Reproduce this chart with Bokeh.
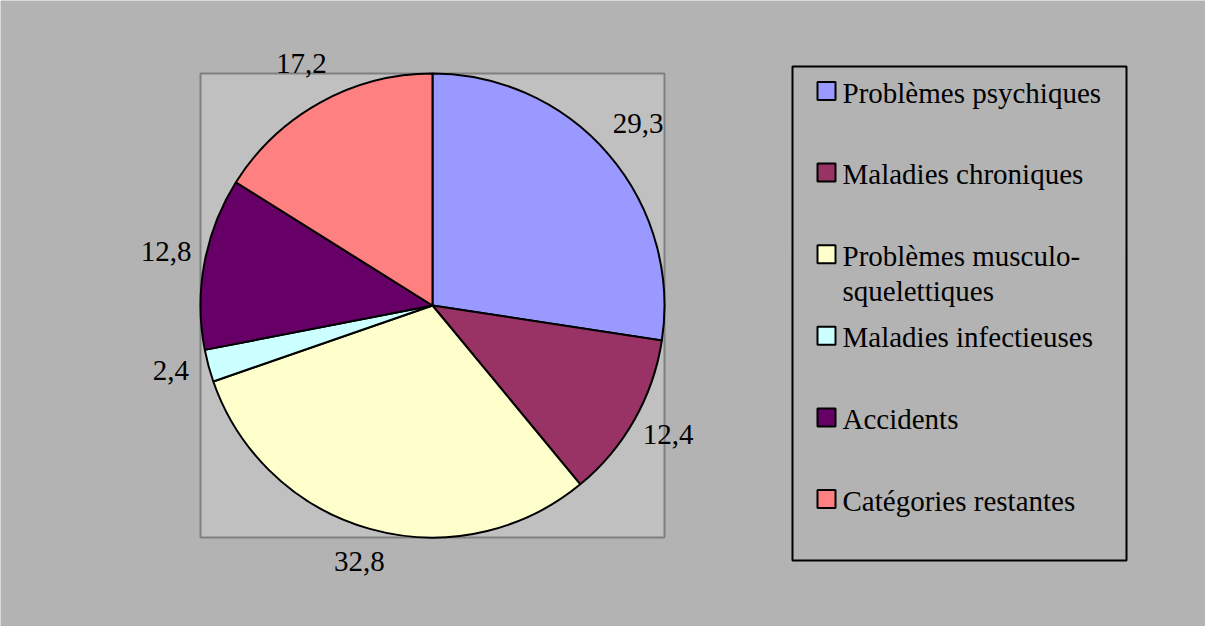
import math
from bokeh.plotting import figure
from bokeh.models import Range1d, ColumnDataSource
from bokeh.core.properties import value
from bokeh.embed import file_html
from bokeh.resources import INLINE

# ---- data ----
categories = ["Problèmes psychiques", "Maladies chroniques",
              "Problèmes musculo-\nsquelettiques", "Maladies infectieuses",
              "Accidents", "Catégories restantes"]
values = [29.3, 12.4, 32.8, 2.4, 12.8, 17.2]
value_labels = ["29,3", "12,4", "32,8", "2,4", "12,8", "17,2"]
colors = ["#9999FF", "#993366", "#FFFFCC", "#CCFFFF", "#660066", "#FF8080"]

# ---- layout (reference pixel coords; data y = 642 - screen y) ----
W, H = 1205, 626
BG = "#b3b3b3"
PLOT_BG = "#c0c0c0"
FONT = "Liberation Serif"
FS = "29px"

def Y(sy):
    return 642 - sy

cx, cy, r = 440, Y(313), 232
label_r = 271
label_dy = 5      # compensation for text 'middle' rendering
legend_dy = 8     # compensation for text baseline rendering

p = figure(width=W, height=H, output_backend="svg", toolbar_location=None,
           x_range=Range1d(8, 8 + W), y_range=Range1d(8, 8 + H),
           min_border=0)
p.axis.visible = False
p.grid.visible = False
p.outline_line_color = None
p.background_fill_color = BG
p.border_fill_color = BG

# plot area box
p.quad(left=[208], right=[672], top=[Y(81)], bottom=[Y(545)],
       fill_color=PLOT_BG, line_color="#808080", line_width=2)

# pie wedges (clockwise from 12 o'clock)
total = sum(values)
starts, ends, lx, ly = [], [], [], []
cum = 0.0
for v in values:
    t0 = 2 * math.pi * cum / total
    cum += v
    t1 = 2 * math.pi * cum / total
    starts.append(math.pi / 2 - t0)
    ends.append(math.pi / 2 - t1)
    tm = (t0 + t1) / 2
    lx.append(cx + label_r * math.sin(tm))
    ly.append(cy + label_r * math.cos(tm) + label_dy)

src = ColumnDataSource(dict(start=starts, end=ends, color=colors))
p.wedge(x=cx, y=cy, radius=r, start_angle="start", end_angle="end",
        direction="clock", fill_color="color", line_color="black",
        line_width=2, source=src)

p.text(x=lx, y=ly, text=value_labels, text_font=value(FONT),
       text_font_size=FS, text_align="center", text_baseline="middle",
       text_color="black")

# legend
p.quad(left=[800], right=[1134], top=[Y(74)], bottom=[Y(568)],
       fill_color=None, line_color="black", line_width=2)

first_base, step, line_step = 108, 81.6, 35
sq_x, sq_size, txt_x = 834, 18, 850
tx, ty, tt, sx, sy = [], [], [], [], []
for i, lab in enumerate(categories):
    base = first_base + i * step
    sx.append(sq_x)
    sy.append(Y(base - 9.5))
    for j, line in enumerate(lab.split("\n")):
        tx.append(txt_x)
        ty.append(Y(base + j * line_step) + legend_dy)
        tt.append(line)

p.rect(x=sx, y=sy, width=sq_size, height=sq_size, fill_color=colors,
       line_color="black", line_width=2)
p.text(x=tx, y=ty, text=tt, text_font=value(FONT), text_font_size=FS,
       text_align="left", text_baseline="alphabetic", text_color="black")

open("out.html", "w").write(file_html(p, INLINE))
